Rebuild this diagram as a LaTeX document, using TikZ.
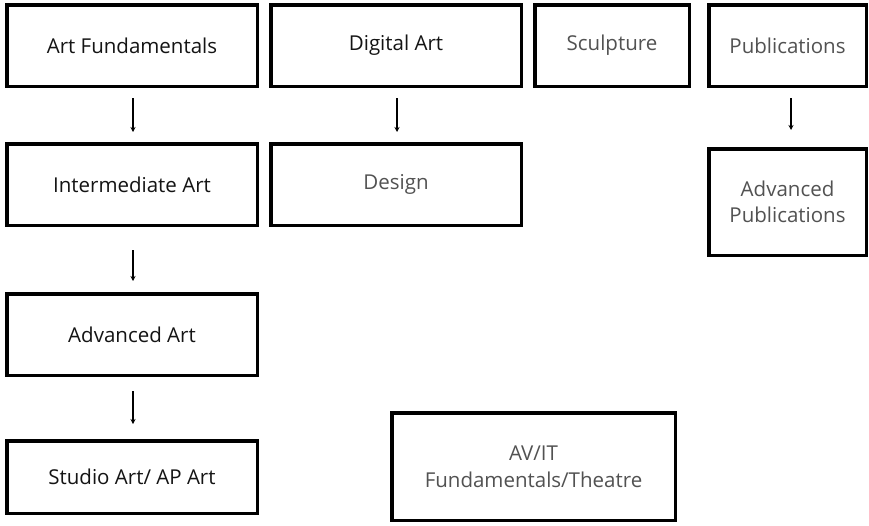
\documentclass[tikz,border=0pt]{standalone}
\usepackage{fontspec}
\setmainfont{Open Sans}
\usetikzlibrary{arrows.meta}
\begin{document}
\begin{tikzpicture}[x=1pt,y=-1pt,
  box/.style={draw=black,line width=3.5pt,inner sep=0pt,align=center,
    font=\fontsize{20.5}{26.5}\selectfont,text=black!92},
  lite/.style={text=black!68},
  conn/.style={line width=1.3pt,-{Stealth[length=5pt,width=5pt]}}]
\useasboundingbox (0,0) rectangle (869,525);
\fill[white] (0,0) rectangle (869,525);
\node[box,minimum width=250.5pt,minimum height=81.5pt] (af) at (132,45.5) {Art Fundamentals};
\node[box,minimum width=250.5pt,minimum height=81.5pt] (da) at (396,45.5) {Digital Art};
\node[box,lite,minimum width=154.5pt,minimum height=81.5pt] (sc) at (612,45.5) {Sculpture};
\node[box,lite,minimum width=157.5pt,minimum height=81.5pt] (pu) at (787.5,45.5) {Publications};
\node[box,minimum width=250.5pt,minimum height=81.5pt] (ia) at (132,184.5) {Intermediate Art};
\node[box,lite,minimum width=250.5pt,minimum height=81.5pt] (de) at (396,184.5) {Design};
\node[box,lite,minimum width=157.5pt,minimum height=106.5pt] (ap) at (787.5,202) {Advanced\\Publications};
\node[box,minimum width=250.5pt,minimum height=81.5pt] (aa) at (132,334.5) {Advanced Art};
\node[box,minimum width=250.5pt,minimum height=72.5pt] (st) at (132,477) {Studio Art/ AP Art};
\node[box,lite,minimum width=283.5pt,minimum height=107.5pt] (av) at (533.5,466.5) {AV/IT\\Fundamentals/Theatre};
\draw[conn,shorten <=10pt,shorten >=10pt] ([xshift=1pt]af.south) -- ([xshift=1pt]ia.north);
\draw[conn,shorten <=10pt,shorten >=10pt] ([xshift=1pt]da.south) -- ([xshift=1pt]de.north);
\draw[conn,shorten <=10pt,shorten >=17pt] ([xshift=3.5pt]pu.south) -- ([xshift=3.5pt]ap.north);
\draw[conn,shorten <=23pt,shorten >=11pt] ([xshift=1pt]ia.south) -- ([xshift=1pt]aa.north);
\draw[conn,shorten <=14pt,shorten >=15pt] ([xshift=1pt]aa.south) -- ([xshift=1pt]st.north);
\end{tikzpicture}
\end{document}
